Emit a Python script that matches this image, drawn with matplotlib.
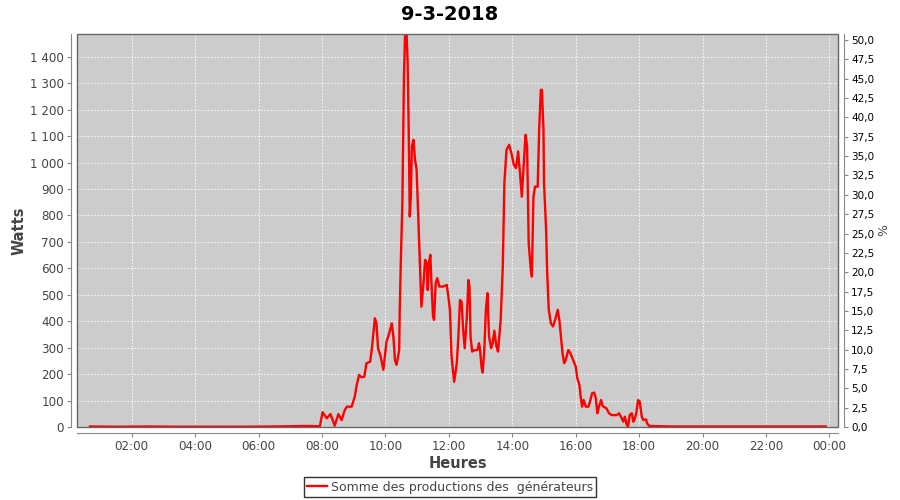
import matplotlib
matplotlib.use("Agg")
import matplotlib.pyplot as plt
from matplotlib.patches import Rectangle
from matplotlib.ticker import FuncFormatter, MultipleLocator

# production values (time of day, watts)
heures = [
    "00:41", "01:30", "02:30", "03:30", "04:30", "05:30", "06:30", "07:00", "07:30", "07:56",
    "08:01", "08:09", "08:16", "08:24", "08:31", "08:37", "08:43", "08:47", "08:56",
    "09:02", "09:05", "09:10", "09:15", "09:20", "09:24", "09:31", "09:34", "09:40", "09:43",
    "09:46", "09:51", "09:56",
    "10:02", "10:07", "10:12", "10:15", "10:18", "10:21", "10:26", "10:27", "10:29", "10:32",
    "10:34", "10:35", "10:37", "10:40", "10:42", "10:44", "10:46", "10:48", "10:50", "10:53",
    "10:56", "10:59",
    "11:02", "11:05", "11:07", "11:08", "11:12", "11:15", "11:18", "11:20", "11:22", "11:25",
    "11:27", "11:30", "11:32", "11:35", "11:38", "11:42", "11:49", "11:56", "11:59",
    "12:02", "12:05", "12:10", "12:15", "12:18", "12:21", "12:24", "12:27", "12:30", "12:34",
    "12:37", "12:39", "12:41", "12:44", "12:49", "12:54", "12:57", "12:59",
    "13:02", "13:04", "13:07", "13:10", "13:13", "13:16", "13:20", "13:23", "13:26", "13:30",
    "13:33", "13:38", "13:42", "13:45", "13:49", "13:54", "13:59",
    "14:03", "14:07", "14:11", "14:14", "14:18", "14:21", "14:25", "14:28", "14:31", "14:35",
    "14:37", "14:40", "14:43", "14:48", "14:51", "14:54", "14:56", "14:59",
    "15:00", "15:04", "15:06", "15:09", "15:13", "15:17", "15:21", "15:26", "15:29", "15:32",
    "15:35", "15:38", "15:41", "15:46", "15:50", "15:55",
    "16:00", "16:03", "16:07", "16:09", "16:12", "16:15", "16:19", "16:24", "16:27", "16:31",
    "16:35", "16:38", "16:41", "16:44", "16:48", "16:51", "16:55", "16:58",
    "17:03", "17:08", "17:14", "17:18", "17:22", "17:27", "17:30", "17:33", "17:36", "17:39",
    "17:42", "17:46", "17:49", "17:52", "17:55", "17:58",
    "18:01", "18:05", "18:08", "18:13", "18:15", "18:19", "19:00", "20:00", "21:00", "22:00",
    "23:00", "23:53",
]
watts = [
    2, 1, 2, 1, 1, 1, 2, 3, 4, 3,
    56, 33, 49, 5, 49, 26, 64, 77, 77,
    115, 152, 197, 188, 190, 241, 247, 291, 411, 392,
    298, 266, 216,
    323, 354, 392, 342, 253, 235, 291, 443, 619, 846,
    1174, 1325, 1477, 1490, 1376, 1124, 796, 871, 1061, 1086,
    1010, 972,
    796, 619, 493, 455, 544, 632, 619, 518, 619, 651,
    544, 417, 405, 544, 563, 531, 531, 537, 493,
    443, 266, 171, 241, 342, 480, 474, 367, 298, 417,
    556, 531, 342, 285, 291, 291, 317, 291,
    222, 206, 291, 443, 506, 342, 298, 317, 364, 304,
    285, 405, 607, 922, 1048, 1067, 1029,
    991, 979, 1042, 972, 871, 972, 1105, 1061, 695, 594,
    569, 871, 909, 909, 1136, 1275, 1275, 1124,
    922, 745, 582, 443, 392, 380, 405, 443, 405, 342,
    279, 241, 253, 291, 279, 253,
    228, 184, 159, 121, 77, 102, 77, 77, 96, 128,
    130, 109, 52, 77, 102, 79, 74, 71,
    52, 45, 45, 45, 52, 33, 20, 39, 11, 1,
    45, 52, 20, 33, 58, 102,
    96, 39, 26, 29, 14, 4, 2, 2, 2, 2,
    2, 2,
]

x_ticks = list(range(2, 25, 2))
x_labels = ["%02d:00" % (h % 24) for h in x_ticks]
legend_label = "Somme des productions des  générateurs"

x = [int(h[:2]) + int(h[3:]) / 60 for h in heures]

grey = "#444444"
fig = plt.figure(figsize=(9, 5), dpi=100)
ax = fig.add_axes([77 / 900, 73 / 500, 761 / 900, 393 / 500])
ax.set_facecolor("#cccccc")

line, = ax.plot(x, watts, color="#ff0000", linewidth=1.7, label=legend_label)

ax.set_xlim(0.274, 24.27)
ax.set_ylim(0, 1486)
ax.set_xticks(x_ticks)
ax.set_xticklabels(x_labels)
ax.yaxis.set_major_locator(MultipleLocator(100))
ax.yaxis.set_major_formatter(FuncFormatter(lambda v, p: f"{int(v):,}".replace(",", " ")))
ax.grid(True, color="white", linestyle=(0, (2, 2)), linewidth=0.6)
ax.set_axisbelow(True)

for s in ["top", "right"]:
    ax.spines[s].set_visible(False)
for s in ["left", "bottom"]:
    ax.spines[s].set_position(("outward", 4))
    ax.spines[s].set_color("#888888")
ax.add_patch(Rectangle((0, 0), 1, 1, transform=ax.transAxes, fill=False,
                       edgecolor="#666666", linewidth=1.0, clip_on=False, zorder=5))
ax.tick_params(colors="#888888", labelcolor=grey, labelsize=8.6, length=3, pad=2.5)

ax.set_xlabel("Heures", fontsize=10.5, fontweight="bold", color=grey, labelpad=2)
ax.set_ylabel("Watts", fontsize=10.5, fontweight="bold", color=grey)
ax.yaxis.set_label_coords(-0.066, 0.5)

ax2 = ax.twinx()
ax2.set_ylim(0, 50.78)
ax2.yaxis.set_major_locator(MultipleLocator(2.5))
ax2.yaxis.set_major_formatter(FuncFormatter(lambda v, p: f"{v:.1f}".replace(".", ",")))
for s in ["top", "left", "bottom"]:
    ax2.spines[s].set_visible(False)
ax2.spines["right"].set_position(("outward", 4))
ax2.spines["right"].set_color("#888888")
ax2.tick_params(colors="#888888", labelcolor="black", labelsize=7.5, length=3, pad=2.5)
ax2.set_ylabel("%", fontsize=9, color=grey, labelpad=2)

fig.suptitle("9-3-2018", fontsize=14, fontweight="bold", y=0.99)

leg = fig.legend(handles=[line], loc="center", bbox_to_anchor=(0.5, 0.026),
                 fontsize=9, frameon=True, fancybox=False, handlelength=1.6,
                 handletextpad=0.3, borderpad=0.25)
leg.get_frame().set_edgecolor("black")
leg.get_frame().set_linewidth(1.0)
for t in leg.get_texts():
    t.set_color(grey)

fig.savefig("out.png", dpi=100)
